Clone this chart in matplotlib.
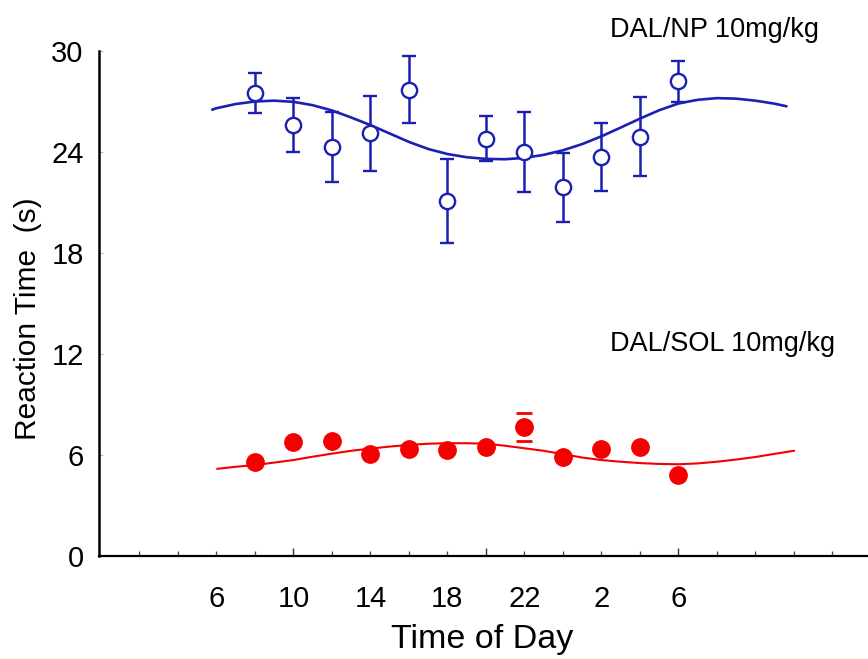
import matplotlib
matplotlib.use("Agg")
import matplotlib.pyplot as plt
import numpy as np

plt.rcParams['font.family'] = ['Liberation Sans', 'DejaVu Sans']

# ---- data ----
hours = [8, 10, 12, 14, 16, 18, 20, 22, 24, 26, 28, 30]

np_mean = [27.5, 25.6, 24.3, 25.1, 27.7, 21.1, 24.8, 24.0, 21.9, 23.7, 24.9, 28.2]
np_err = [1.2, 1.6, 2.1, 2.2, 2.0, 2.5, 1.35, 2.35, 2.05, 2.0, 2.35, 1.2]

sol_mean = [5.6, 6.75, 6.86, 6.05, 6.37, 6.27, 6.5, 7.66, 5.87, 6.35, 6.5, 4.82]
sol_err = [0, 0, 0, 0, 0, 0, 0, 0.85, 0, 0, 0, 0]

np_fit_t = [5.8, 6, 7, 8, 9, 10, 11, 12, 13, 14, 15, 16, 17, 18, 19, 20, 21, 22, 23,
            24, 25, 26, 27, 28, 29, 30, 31, 32, 33, 34, 35, 35.6]
np_fit_v = [26.52, 26.6, 26.85, 27.0, 27.05, 26.98, 26.78, 26.47, 26.05, 25.6, 25.1,
            24.6, 24.18, 23.88, 23.69, 23.59, 23.57, 23.65, 23.83, 24.1, 24.47, 24.93,
            25.45, 25.98, 26.48, 26.88, 27.1, 27.2, 27.17, 27.05, 26.87, 26.72]

sol_fit_t = [6.05, 7, 8, 9, 10, 11, 12, 13, 14, 15, 16, 17, 18, 19, 20, 21, 22, 23,
             24, 25, 26, 27, 28, 29, 30, 31, 32, 33, 34, 35, 36]
sol_fit_v = [5.18, 5.3, 5.4, 5.55, 5.7, 5.9, 6.08, 6.25, 6.38, 6.5, 6.6, 6.67, 6.7,
             6.7, 6.67, 6.55, 6.4, 6.25, 6.05, 5.85, 5.7, 5.6, 5.52, 5.47, 5.45, 5.5,
             5.6, 5.73, 5.88, 6.07, 6.25]

xtick_pos = [6, 10, 14, 18, 22, 26, 30]
xtick_labels = ['6', '10', '14', '18', '22', '2', '6']
ytick_pos = [0, 6, 12, 18, 24, 30]

blue = '#1a20b2'
red = '#f50000'

fig = plt.figure(figsize=(8.68, 6.59), dpi=100)
ax = fig.add_axes([99 / 868, 103 / 659, 769 / 868, 505 / 659])
ax.set_xlim(-0.1, 39.85)
ax.set_ylim(0, 30)

# fitted curves
ax.plot(np_fit_t, np_fit_v, color=blue, lw=1.9, zorder=2, solid_joinstyle='round')
ax.plot(sol_fit_t, sol_fit_v, color=red, lw=1.5, zorder=2, solid_joinstyle='round')

# data points
ax.errorbar(hours, np_mean, yerr=np_err, fmt='o', color=blue, ms=11, mfc='white',
            mec=blue, mew=1.7, elinewidth=1.8, capsize=5, capthick=1.8, zorder=3)
sol_err_plot = [e if e > 0 else np.nan for e in sol_err]
ax.errorbar(hours, sol_mean, yerr=sol_err_plot, fmt='o', color=red, ms=12.5,
            mec=red, mfc=red, elinewidth=0, capsize=5.5, capthick=2.0, zorder=3)

# spines
for s in ['top', 'right']:
    ax.spines[s].set_visible(False)
ax.spines['left'].set_linewidth(1.8)
ax.spines['bottom'].set_linewidth(1.6)

# y ticks
ax.set_yticks(ytick_pos)
ax.tick_params(axis='y', direction='in', length=3, width=0.8, color='#bbbbbb',
               labelsize=21, pad=11)

# x ticks: small ticks every 2 h, taller ticks every 10 h
ax.set_xticks([10, 20, 30])
ax.set_xticklabels([])
ax.set_xticks(np.arange(2, 39, 2), minor=True)
ax.tick_params(axis='x', which='major', direction='in', length=6, width=1.0, color='#333333')
ax.tick_params(axis='x', which='minor', direction='in', length=3.5, width=0.9, color='#444444')

sec = ax.secondary_xaxis('bottom')
sec.set_xticks(xtick_pos)
sec.set_xticklabels(xtick_labels)
sec.tick_params(axis='x', length=0, labelsize=21, pad=21)
sec.spines['bottom'].set_visible(False)

ax.set_ylabel('Reaction Time  (s)', fontsize=21.5)
ax.yaxis.set_label_coords(-0.074, 0.47)
ax.set_xlabel('Time of Day', fontsize=24.5)
ax.xaxis.set_label_coords(0.498, -0.134)

ax.text(31.9, 31.25, 'DAL/NP 10mg/kg', fontsize=19.5, ha='center', va='center',
        clip_on=False)
ax.text(32.3, 12.6, 'DAL/SOL 10mg/kg', fontsize=19.5, ha='center', va='center',
        clip_on=False)

fig.savefig('out.png', dpi=100)
